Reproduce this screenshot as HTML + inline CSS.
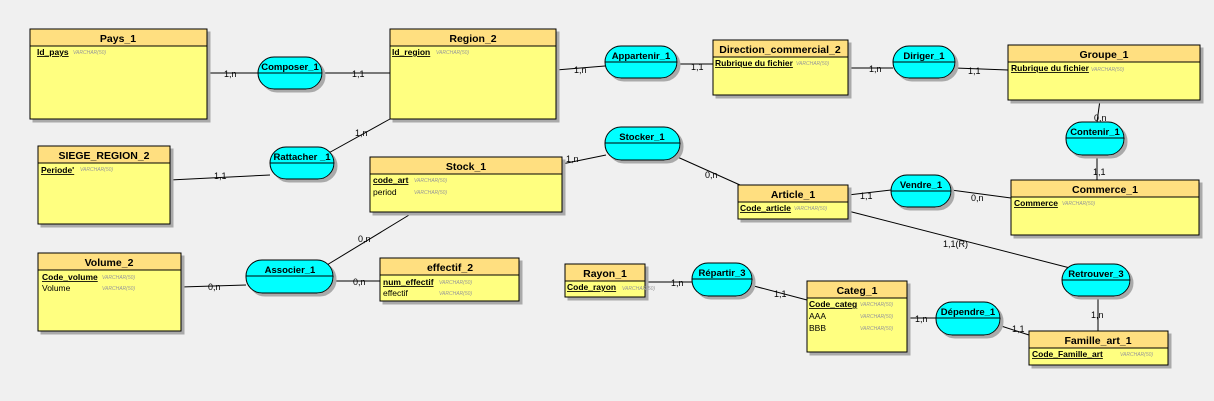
<!DOCTYPE html>
<html><head><meta charset="utf-8"><style>
html,body{margin:0;padding:0;background:#f0f0f0;}
svg{display:block;font-family:"Liberation Sans",sans-serif;}
.h{font-size:10.5px;font-weight:bold;fill:#000;text-anchor:middle;}
.a{font-size:8.5px;font-weight:bold;fill:#000;}
.n{font-size:8.5px;fill:#000;}
.t{font-size:5px;font-style:italic;fill:#999;}
.c{font-size:9px;fill:#000;}
.r{font-size:9.5px;font-weight:bold;fill:#000;text-anchor:middle;}
line,polyline{stroke:#000;stroke-width:1;fill:none;}
</style></head><body>
<svg width="1214" height="401" xmlns="http://www.w3.org/2000/svg">
<defs>
<filter id="s" x="-5%" y="-5%" width="115%" height="120%"><feDropShadow dx="3" dy="3" stdDeviation="0" flood-color="#aaa"/></filter>
</defs>
<line x1="207" y1="73" x2="258" y2="73"/><line x1="322" y1="73" x2="390" y2="73"/>
<line x1="170" y1="180" x2="270" y2="175"/><line x1="325" y1="155" x2="390" y2="119"/>
<line x1="556" y1="70" x2="605" y2="66"/><line x1="677" y1="64" x2="713" y2="64"/>
<line x1="848" y1="68" x2="893" y2="68"/><line x1="955" y1="68" x2="1008" y2="70"/>
<line x1="1100" y1="100" x2="1097" y2="122"/><line x1="1097" y1="155" x2="1097" y2="180"/>
<line x1="562" y1="164" x2="606" y2="155"/><line x1="673" y1="155" x2="740" y2="185"/>
<line x1="848" y1="195" x2="891" y2="190"/><line x1="951" y1="190" x2="1011" y2="198"/>
<line x1="848" y1="211" x2="1070" y2="268"/><line x1="1098" y1="296" x2="1098" y2="331"/>
<line x1="322" y1="268" x2="414" y2="212"/>
<line x1="181" y1="287" x2="246" y2="285"/><line x1="333" y1="281" x2="380" y2="281"/>
<line x1="645" y1="282" x2="692" y2="282"/><line x1="750" y1="285" x2="807" y2="300"/>
<line x1="907" y1="318" x2="936" y2="318"/><line x1="998" y1="325" x2="1029" y2="335"/>
<g class="c">
<text x="224" y="77">1,n</text><text x="352" y="77">1,1</text>
<text x="214" y="179">1,1</text><text x="355" y="136">1,n</text>
<text x="574" y="73">1,n</text><text x="691" y="70">1,1</text>
<text x="869" y="72">1,n</text><text x="968" y="74">1,1</text>
<text x="1094" y="121">0,n</text><text x="1093" y="175">1,1</text>
<text x="566" y="162">1,n</text><text x="705" y="178">0,n</text>
<text x="860" y="199">1,1</text><text x="971" y="201">0,n</text>
<text x="943" y="247">1,1(R)</text><text x="1091" y="318">1,n</text>
<text x="358" y="242">0,n</text>
<text x="208" y="290">0,n</text><text x="353" y="285">0,n</text>
<text x="671" y="286">1,n</text><text x="774" y="297">1,1</text>
<text x="915" y="322">1,n</text><text x="1012" y="332">1,1</text>
</g>
<g fill="#00ffff" stroke="#000" filter="url(#s)">
<rect x="258" y="57" width="64" height="32" rx="16"/>
<rect x="270" y="147" width="64" height="32" rx="16"/>
<rect x="605" y="46" width="72" height="32" rx="16"/>
<rect x="893" y="46" width="62" height="32" rx="16"/>
<rect x="605" y="127" width="75" height="33" rx="16"/>
<rect x="1066" y="122" width="58" height="33" rx="16"/>
<rect x="891" y="175" width="60" height="32" rx="16"/>
<rect x="246" y="260" width="87" height="33" rx="16"/>
<rect x="692" y="263" width="60" height="33" rx="16"/>
<rect x="936" y="302" width="64" height="33" rx="16"/>
<rect x="1062" y="264" width="68" height="32" rx="16"/>
</g>
<g stroke="#000">
<line x1="258" y1="73" x2="322" y2="73"/><line x1="270" y1="163" x2="334" y2="163"/>
<line x1="605" y1="62" x2="677" y2="62"/><line x1="893" y1="62" x2="955" y2="62"/>
<line x1="605" y1="143" x2="680" y2="143"/><line x1="1066" y1="138" x2="1124" y2="138"/>
<line x1="891" y1="191" x2="951" y2="191"/><line x1="246" y1="276" x2="333" y2="276"/>
<line x1="692" y1="279" x2="752" y2="279"/><line x1="936" y1="318" x2="1000" y2="318"/>
<line x1="1062" y1="280" x2="1130" y2="280"/>
</g>
<g class="r">
<text x="290" y="70">Composer_1</text><text x="302" y="160">Rattacher _1</text>
<text x="641" y="59">Appartenir_1</text><text x="924" y="59">Diriger_1</text>
<text x="642" y="140">Stocker_1</text><text x="1095" y="135">Contenir_1</text>
<text x="921" y="188">Vendre_1</text><text x="290" y="273">Associer_1</text>
<text x="722" y="276">Répartir_3</text><text x="968" y="315">Dépendre_1</text>
<text x="1096" y="277">Retrouver_3</text>
</g>
<g stroke="#000" filter="url(#s)">
<rect x="30" y="29" width="177" height="90" fill="#ffff80"/>
<rect x="390" y="29" width="166" height="90" fill="#ffff80"/>
<rect x="38" y="146" width="132" height="78" fill="#ffff80"/>
<rect x="370" y="157" width="192" height="55" fill="#ffff80"/>
<rect x="38" y="253" width="143" height="78" fill="#ffff80"/>
<rect x="380" y="258" width="139" height="43" fill="#ffff80"/>
<rect x="713" y="40" width="135" height="55" fill="#ffff80"/>
<rect x="1008" y="45" width="192" height="55" fill="#ffff80"/>
<rect x="738" y="185" width="110" height="34" fill="#ffff80"/>
<rect x="1011" y="180" width="188" height="55" fill="#ffff80"/>
<rect x="565" y="264" width="80" height="33" fill="#ffff80"/>
<rect x="807" y="281" width="100" height="71" fill="#ffff80"/>
<rect x="1029" y="331" width="139" height="34" fill="#ffff80"/>
</g>
<g stroke="#000" fill="#ffdf80">
<rect x="30" y="29" width="177" height="17"/>
<rect x="390" y="29" width="166" height="17"/>
<rect x="38" y="146" width="132" height="17"/>
<rect x="370" y="157" width="192" height="17"/>
<rect x="38" y="253" width="143" height="17"/>
<rect x="380" y="258" width="139" height="17"/>
<rect x="713" y="40" width="135" height="17"/>
<rect x="1008" y="45" width="192" height="17"/>
<rect x="738" y="185" width="110" height="17"/>
<rect x="1011" y="180" width="188" height="17"/>
<rect x="565" y="264" width="80" height="17"/>
<rect x="807" y="281" width="100" height="17"/>
<rect x="1029" y="331" width="139" height="17"/>
</g>
<g class="h">
<text x="118" y="42">Pays_1</text><text x="473" y="42">Region_2</text>
<text x="104" y="159">SIEGE_REGION_2</text><text x="466" y="170">Stock_1</text>
<text x="109" y="266">Volume_2</text><text x="450" y="271">effectif_2</text>
<text x="780" y="53">Direction_commercial_2</text><text x="1104" y="58">Groupe_1</text>
<text x="793" y="198">Article_1</text><text x="1105" y="193">Commerce_1</text>
<text x="605" y="277">Rayon_1</text><text x="857" y="294">Categ_1</text>
<text x="1098" y="344">Famille_art_1</text>
</g>
<g class="a" text-decoration="underline">
<text x="37" y="55">Id_pays</text><text x="392" y="55">Id_region</text>
<text x="41" y="173">Periode'</text><text x="373" y="183">code_art</text>
<text x="42" y="280">Code_volume</text><text x="383" y="285">num_effectif</text>
<text x="715" y="66">Rubrique du fichier</text><text x="1011" y="71">Rubrique du fichier</text>
<text x="740" y="211">Code_article</text><text x="1014" y="206">Commerce</text>
<text x="567" y="290">Code_rayon</text><text x="809" y="307">Code_categ</text>
<text x="1032" y="357">Code_Famille_art</text>
</g>
<g class="n">
<text x="373" y="195">period</text><text x="42" y="291">Volume</text>
<text x="383" y="296">effectif</text><text x="809" y="319">AAA</text><text x="809" y="331">BBB</text>
</g>
<g class="t">
<text x="73" y="54">VARCHAR(50)</text><text x="436" y="54">VARCHAR(50)</text>
<text x="80" y="171">VARCHAR(50)</text><text x="414" y="182">VARCHAR(50)</text><text x="414" y="194">VARCHAR(50)</text>
<text x="102" y="279">VARCHAR(50)</text><text x="102" y="290">VARCHAR(50)</text>
<text x="439" y="284">VARCHAR(50)</text><text x="439" y="295">VARCHAR(50)</text>
<text x="796" y="65">VARCHAR(50)</text><text x="1091" y="71">VARCHAR(50)</text>
<text x="794" y="210">VARCHAR(50)</text><text x="1062" y="205">VARCHAR(50)</text>
<text x="622" y="290">VARCHAR(50)</text><text x="860" y="306">VARCHAR(50)</text>
<text x="860" y="318">VARCHAR(50)</text><text x="860" y="330">VARCHAR(50)</text>
<text x="1120" y="356">VARCHAR(50)</text>
</g>
</svg>
</body></html>
